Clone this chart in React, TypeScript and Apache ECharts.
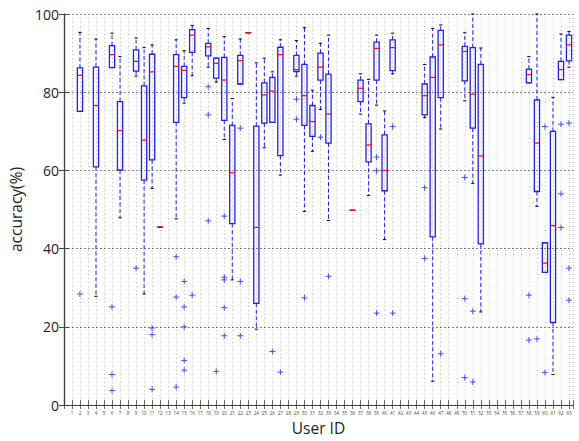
import React, { useEffect, useRef } from "react";
import * as echarts from "echarts";

// Box statistics per user: [lowWhisker, q1, median, q3, highWhisker]
const users = [2, 4, 6, 7, 9, 10, 11, 12, 14, 15, 16, 18, 19, 20, 21, 22, 23, 24, 25, 26, 27, 29, 30, 31, 32, 33, 36, 37, 38, 39, 40, 41, 45, 46, 47, 50, 51, 52, 58, 59, 60, 61, 62, 63];
const whiskerLow = [75.1, 27.8, 86.3, 47.9, 84.1, 28.4, 55.4, 45.5, 47.6, 77.2, 84.2, 86.4, 82.6, 67.9, 32.0, 82.1, 95.2, 19.4, 65.8, 72.3, 58.8, 84.1, 49.5, 64.9, 75.6, 47.2, 49.8, 74.4, 53.6, 76.7, 42.3, 84.7, 73.5, 6.1, 70.6, 77.8, 56.7, 23.8, 82.4, 50.8, 33.9, 7.8, 83.2, 86.4];
const quart1 = [75.1, 60.9, 86.3, 60.1, 85.4, 57.5, 62.7, 45.5, 72.3, 78.6, 90.2, 89.3, 83.6, 72.8, 46.4, 82.1, 95.2, 26.0, 72.1, 72.3, 63.8, 85.3, 71.5, 68.7, 83.1, 67.0, 49.8, 77.6, 62.2, 83.1, 54.8, 85.5, 74.2, 43.0, 78.6, 82.9, 70.8, 41.2, 82.4, 54.6, 33.9, 21.1, 83.2, 88.0];
const medians = [84.3, 76.6, 89.6, 70.2, 87.9, 67.7, 85.2, 45.5, 86.6, 85.6, 94.6, 91.6, 87.4, 83.1, 59.4, 88.1, 95.2, 45.4, 79.3, 80.3, 89.6, 85.8, 79.1, 72.5, 86.4, 74.4, 49.8, 81.0, 66.5, 91.2, 60.0, 91.4, 79.1, 83.8, 92.1, 90.4, 79.5, 63.7, 84.5, 67.0, 36.3, 45.9, 85.8, 92.1];
const quart3 = [86.2, 86.4, 91.9, 77.6, 90.8, 81.6, 89.7, 45.5, 89.6, 86.6, 96.0, 92.5, 88.7, 88.9, 71.5, 89.4, 95.2, 71.3, 82.4, 83.8, 91.5, 89.4, 87.1, 76.6, 90.0, 84.6, 49.8, 83.1, 71.9, 92.8, 69.1, 93.4, 82.1, 89.0, 95.8, 91.7, 91.4, 87.1, 85.9, 78.0, 41.5, 70.0, 87.9, 94.6];
const whiskerHigh = [95.3, 93.6, 95.1, 89.1, 93.9, 91.4, 92.1, 45.5, 93.4, 90.6, 97.1, 96.3, 88.7, 94.2, 78.4, 93.6, 95.2, 87.5, 88.7, 85.2, 93.4, 93.2, 96.5, 80.5, 92.5, 94.6, 49.8, 84.7, 83.3, 94.6, 75.2, 95.1, 87.1, 96.3, 97.2, 95.2, 100, 91.3, 89.1, 100, 41.5, 78.7, 94.9, 95.5];

// Outliers
const outlierUsers = [2, 6, 6, 6, 9, 11, 11, 11, 14, 14, 14, 15, 15, 15, 15, 15, 16, 18, 18, 18, 19, 20, 20, 20, 20, 20, 22, 22, 22, 26, 27, 29, 29, 30, 32, 33, 39, 39, 39, 41, 41, 45, 45, 47, 50, 50, 50, 51, 51, 58, 58, 59, 60, 60, 62, 62, 62, 63, 63, 63];
const outlierValues = [28.4, 25.1, 7.8, 3.7, 35.0, 19.7, 18.0, 4.0, 37.9, 27.6, 4.6, 31.6, 25.1, 20.0, 11.4, 8.9, 28.1, 81.4, 74.2, 47.1, 8.6, 48.3, 32.7, 32.0, 24.9, 17.7, 70.8, 31.6, 17.7, 13.7, 8.4, 78.2, 73.1, 27.4, 68.5, 32.9, 63.4, 59.9, 23.5, 71.2, 23.5, 55.6, 37.5, 13.1, 58.2, 27.2, 7.0, 24.0, 5.9, 28.1, 16.6, 16.9, 71.2, 8.3, 71.8, 54.0, 45.4, 72.1, 35.0, 26.8];

const yTicks = [0, 20, 40, 60, 80, 100];

const FONT = "Open Sans";
const BLUE = "#1f1fff";

export default function App() {
  const ref = useRef<HTMLDivElement>(null);
  useEffect(() => {
    if (!ref.current) return;
    const chart = echarts.init(ref.current, null, { renderer: "svg" });
    const boxData = users.map((u, i) => [u, whiskerLow[i], quart1[i], medians[i], quart3[i], whiskerHigh[i]]);
    const outData = outlierUsers.map((u, i) => [u, outlierValues[i]]);
    chart.setOption({
      animation: false,
      grid: { left: 60, right: 6, top: 14, bottom: 31, containLabel: false },
      xAxis: [
        {
          type: "value",
          min: 0,
          max: 63.5,
          interval: 1,
          position: "bottom",
          name: "User ID",
          nameLocation: "middle",
          nameGap: 15,
          nameTextStyle: { fontFamily: FONT, fontSize: 15.5, color: "#222" },
          axisLine: { show: true, lineStyle: { color: "#444", width: 1.2 } },
          axisTick: { show: true, inside: true, length: 5, lineStyle: { color: "#444", width: 0.8 } },
          axisLabel: {
            show: true,
            margin: 5,
            fontSize: 4.5,
            fontFamily: FONT,
            color: "#444",
            formatter: (v: number) => (v >= 1 && v <= 63 && Number.isInteger(v) ? String(v) : ""),
          },
          splitLine: { show: true, lineStyle: { color: "#9a9a9a", width: 0.7, type: [1, 3] as any } },
        },
        {
          type: "value",
          min: 0,
          max: 63.5,
          interval: 1,
          position: "top",
          axisLine: { show: true, lineStyle: { color: "#444", width: 1.2 } },
          axisTick: { show: true, inside: true, length: 4, lineStyle: { color: "#444", width: 0.8 } },
          axisLabel: { show: false },
          splitLine: { show: false },
        },
      ],
      yAxis: [
        {
          type: "value",
          min: yTicks[0],
          max: yTicks[yTicks.length - 1],
          interval: 20,
          position: "left",
          name: "accuracy(%)",
          nameLocation: "middle",
          nameGap: 34,
          nameTextStyle: { fontFamily: FONT, fontSize: 15.5, color: "#222" },
          axisLine: { show: true, lineStyle: { color: "#444", width: 1.2 } },
          axisTick: { show: true, inside: true, length: 5, lineStyle: { color: "#444" } },
          axisLabel: { show: true, margin: 5, fontFamily: FONT, fontSize: 14, color: "#222" },
          splitLine: { show: true, lineStyle: { color: "#555", width: 0.8, type: [2, 2] as any } },
        },
        {
          type: "value",
          min: 0,
          max: 100,
          interval: 20,
          position: "right",
          axisLine: { show: true, lineStyle: { color: "#444", width: 1.2 } },
          axisTick: { show: true, inside: true, length: 5, lineStyle: { color: "#444" } },
          axisLabel: { show: false },
          splitLine: { show: false },
        },
      ],
      series: [
        {
          type: "custom",
          name: "boxes",
          xAxisIndex: 0,
          yAxisIndex: 0,
          encode: { x: 0, y: [1, 2, 3, 4, 5] },
          data: boxData,
          renderItem: (params: any, api: any) => {
            const x = api.value(0);
            const pLo = api.coord([x, api.value(1)]);
            const pQ1 = api.coord([x, api.value(2)]);
            const pMed = api.coord([x, api.value(3)]);
            const pQ3 = api.coord([x, api.value(4)]);
            const pHi = api.coord([x, api.value(5)]);
            const cx = pMed[0];
            const hw = 2.6;
            const cw = 1.6;
            const dash = { stroke: BLUE, lineWidth: 1, lineDash: [4, 2.5] };
            return {
              type: "group",
              children: [
                { type: "line", shape: { x1: cx, y1: pQ3[1], x2: cx, y2: pHi[1] }, style: dash },
                { type: "line", shape: { x1: cx, y1: pQ1[1], x2: cx, y2: pLo[1] }, style: dash },
                { type: "line", shape: { x1: cx - cw, y1: pHi[1], x2: cx + cw, y2: pHi[1] }, style: { stroke: "#000", lineWidth: 1 } },
                { type: "line", shape: { x1: cx - cw, y1: pLo[1], x2: cx + cw, y2: pLo[1] }, style: { stroke: "#000", lineWidth: 1 } },
                {
                  type: "rect",
                  shape: { x: cx - hw, y: pQ3[1], width: hw * 2, height: Math.max(pQ1[1] - pQ3[1], 0.01) },
                  style: { fill: "none", stroke: BLUE, lineWidth: 1.3 },
                },
                { type: "line", shape: { x1: cx - hw, y1: pMed[1], x2: cx + hw, y2: pMed[1] }, style: { stroke: "#ff1010", lineWidth: 1.3 } },
              ],
            };
          },
        },
        {
          type: "custom",
          name: "outliers",
          xAxisIndex: 0,
          yAxisIndex: 0,
          encode: { x: 0, y: 1 },
          data: outData,
          renderItem: (params: any, api: any) => {
            const p = api.coord([api.value(0), api.value(1)]);
            const s = 3;
            const st = { stroke: "#3a3aff", lineWidth: 0.9 };
            return {
              type: "group",
              children: [
                { type: "line", shape: { x1: p[0] - s, y1: p[1], x2: p[0] + s, y2: p[1] }, style: st },
                { type: "line", shape: { x1: p[0], y1: p[1] - s, x2: p[0], y2: p[1] + s }, style: st },
              ],
            };
          },
        },
      ],
    });
    return () => chart.dispose();
  }, []);
  return <div ref={ref} style={{ position: "fixed", left: 0, top: 0, width: 579, height: 441, background: "#fff" }} />;
}
